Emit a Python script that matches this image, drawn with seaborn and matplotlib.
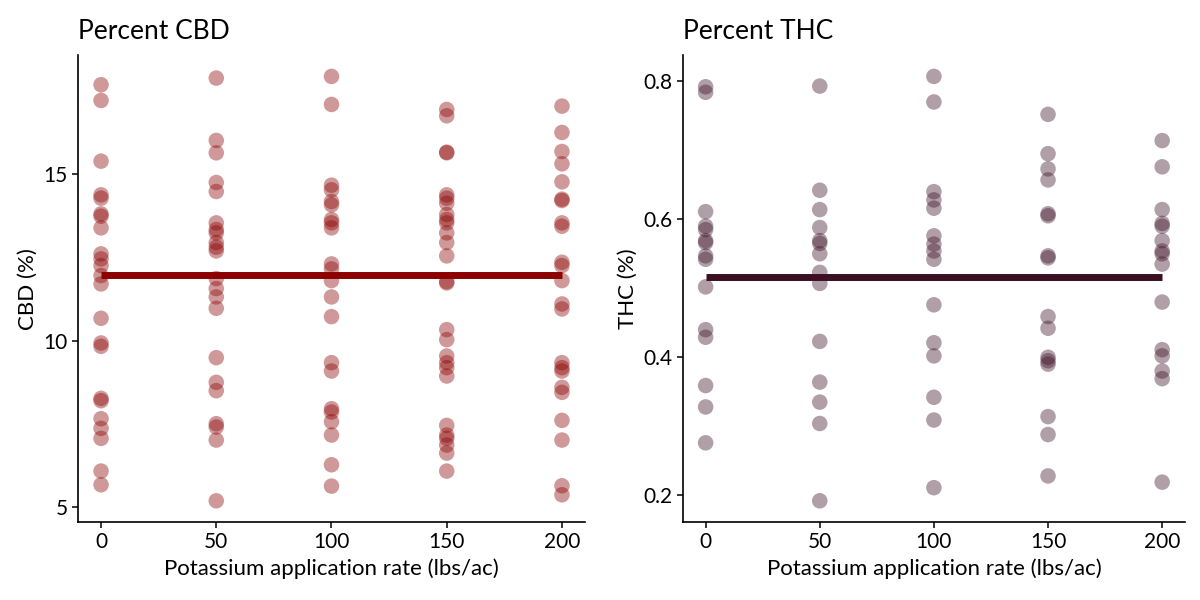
import pandas as pd
import numpy as np
import seaborn as sns
import matplotlib.pyplot as plt

# potassium rates and read-off values per rate
rates = [0, 50, 100, 150, 200]

cbd_0 = [17.67, 17.2, 15.38, 14.37, 14.27, 13.8, 13.73, 13.38, 12.6, 12.45, 12.25, 11.95, 11.7,
         10.67, 9.93, 9.83, 8.27, 8.2, 7.66, 7.37, 7.07, 6.09, 5.68]
cbd_50 = [17.87, 16.0, 15.63, 14.74, 14.47, 13.53, 13.33, 13.23, 12.94, 12.8, 12.69, 11.86, 11.56,
          11.31, 10.97, 9.49, 8.75, 8.5, 7.51, 7.41, 7.02, 5.2]
cbd_100 = [17.92, 17.08, 14.66, 14.52, 14.17, 14.07, 13.63, 13.53, 13.38, 12.3, 12.15, 11.8, 11.31,
           10.72, 9.34, 9.09, 7.96, 7.86, 7.57, 7.17, 6.28, 5.64]
cbd_150 = [16.93, 16.74, 15.65, 15.63, 14.37, 14.27, 14.12, 13.78, 13.63, 13.53, 13.23, 12.94, 12.54,
           11.77, 11.73, 10.33, 10.03, 9.54, 9.34, 9.19, 8.94, 7.46, 7.17, 7.07, 6.87, 6.63, 6.09]
cbd_200 = [17.03, 16.24, 15.67, 15.3, 14.76, 14.24, 14.2, 13.53, 13.43, 12.35, 12.25, 11.8, 11.1,
           10.95, 9.34, 9.19, 9.09, 8.6, 8.45, 7.61, 7.02, 5.65, 5.38]

thc_0 = [0.792, 0.784, 0.611, 0.590, 0.585, 0.569, 0.566, 0.547, 0.542, 0.502, 0.440, 0.429,
         0.359, 0.328, 0.276]
thc_50 = [0.793, 0.642, 0.614, 0.588, 0.569, 0.565, 0.550, 0.523, 0.507, 0.423, 0.364, 0.335,
          0.304, 0.192]
thc_100 = [0.807, 0.770, 0.640, 0.628, 0.616, 0.576, 0.564, 0.554, 0.542, 0.476, 0.421, 0.402,
           0.342, 0.309, 0.211]
thc_150 = [0.752, 0.695, 0.673, 0.657, 0.608, 0.605, 0.547, 0.544, 0.459, 0.442, 0.400, 0.395,
           0.390, 0.314, 0.288, 0.228]
thc_200 = [0.714, 0.676, 0.614, 0.594, 0.590, 0.569, 0.554, 0.550, 0.535, 0.480, 0.411, 0.402,
           0.380, 0.369, 0.219]

# fitted (flat) trend
cbd_fit = [11.96, 11.96]
thc_fit = [0.516, 0.516]


def long_df(cols):
    rows = []
    for r, vals in zip(rates, cols):
        for v in vals:
            rows.append({'rate': r, 'value': v})
    return pd.DataFrame(rows)


cbd_df = long_df([cbd_0, cbd_50, cbd_100, cbd_150, cbd_200])
thc_df = long_df([thc_0, thc_50, thc_100, thc_150, thc_200])

sns.set_style('white')
plt.rcParams['font.family'] = ['Lato', 'DejaVu Sans']
plt.rcParams['text.color'] = 'black'
plt.rcParams['axes.labelcolor'] = 'black'

fig = plt.figure(figsize=(12, 6), dpi=100)
ax1 = fig.add_axes([0.065, 0.13, 0.4225, 0.778])
ax2 = fig.add_axes([0.569, 0.13, 0.4185, 0.778])

panels = [(ax1, cbd_df, cbd_fit, '#8b0000', 'Percent CBD', 'CBD (%)'),
          (ax2, thc_df, thc_fit, '#3c0f23', 'Percent THC', 'THC (%)')]

for ax, df, fitv, col, title, ylab in panels:
    sns.scatterplot(data=df, x='rate', y='value', color=col, alpha=0.4, s=125,
                    edgecolor='none', ax=ax)
    fit = pd.DataFrame({'rate': [min(rates), max(rates)], 'value': fitv})
    sns.lineplot(data=fit, x='rate', y='value', color=col, linewidth=5,
                 solid_capstyle='butt', ax=ax)
    lo, hi = df['value'].min(), df['value'].max()
    pad = (hi - lo) * 0.05
    ax.set_ylim(lo - pad, hi + pad)
    ax.set_xlim(-10, 210)
    ax.set_xticks(rates)
    ax.set_title(title, loc='left', fontsize=19, pad=12, color='black')
    ax.set_xlabel('Potassium application rate (lbs/ac)', fontsize=16)
    ax.set_ylabel(ylab, fontsize=16)
    ax.tick_params(axis='both', labelsize=15, length=4, width=1.1, direction='out',
                   bottom=True, left=True, colors='black')
    for side in ['top', 'right']:
        ax.spines[side].set_visible(False)
    for side in ['left', 'bottom']:
        ax.spines[side].set_color('black')
        ax.spines[side].set_linewidth(1.2)

ax1.set_yticks([5, 10, 15])
ax2.set_yticks([0.2, 0.4, 0.6, 0.8])
ax2.set_yticklabels(['0.2', '0.4', '0.6', '0.8'])

fig.savefig('out.png', dpi=100)
